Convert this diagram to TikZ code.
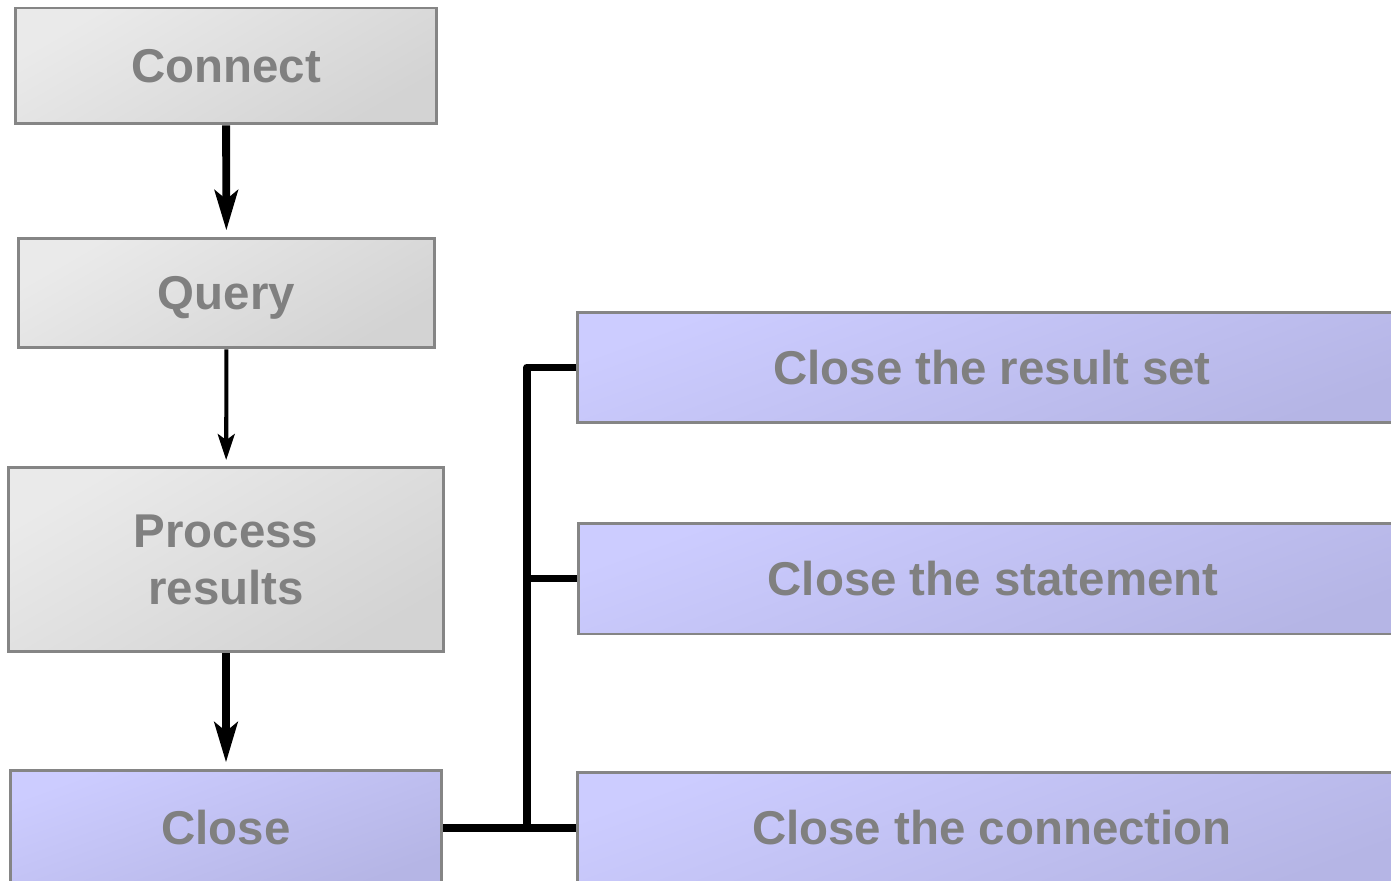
\documentclass[tikz,border=0pt]{standalone}
\usepackage{fontspec}
\setmainfont{Liberation Sans}
\usetikzlibrary{arrows.meta,positioning}

\definecolor{boxline}{HTML}{858585}
\definecolor{boxtext}{HTML}{808080}
\definecolor{greylight}{HTML}{EAEAEA}
\definecolor{greydark}{HTML}{D3D3D3}
\definecolor{bluelight}{HTML}{CCCCFF}
\definecolor{bluedark}{HTML}{B5B5E5}

\tikzset{
  stage/.style={draw=boxline,line width=1.7pt,align=center,inner sep=0pt,
    text=boxtext,font=\fontsize{27}{32.4}\selectfont\bfseries},
  oneline/.style={text height=19.3pt,text depth=0pt},
  greybox/.style={stage,shade,left color=greylight,right color=greydark,
    shading angle=30},
  bluebox/.style={stage,shade,left color=bluelight,right color=bluedark,
    shading angle=20},
  flow/.style={line width=4.5pt,
    -{Stealth[length=0.8cm,width=0.46cm,inset=0.18cm]},shorten >=0.12cm},
  thinflow/.style={line width=2.3pt,
    -{Stealth[length=0.52cm,width=0.34cm,inset=0.12cm]},shorten >=0.11cm},
  bar/.style={line width=4.5pt,line join=round}
}

\begin{document}
\begin{tikzpicture}[x=0.02cm,y=-0.02cm]
\useasboundingbox (0,0) rectangle (1391,881);
\clip (0,0) rectangle (1391,881);

% left column: the main steps
\node[greybox,oneline,minimum width=8.44cm,minimum height=2.32cm] (connect) at (226,66) {Connect};
\node[greybox,oneline,minimum width=8.34cm,minimum height=2.2cm] (query) at (226.5,293) {Query};
\node[greybox,minimum width=8.72cm,minimum height=3.7cm] (process) at (226,559.5) {Process\\results};
\node[bluebox,oneline,minimum width=8.64cm,minimum height=2.32cm] (close) at (226,828) {Close};

% right column: what gets closed
\node[bluebox,oneline,minimum width=16.6cm,minimum height=2.22cm] (closers) at (992,367.5) {Close the result set};
\node[bluebox,oneline,minimum width=16.6cm,minimum height=2.22cm] (closest) at (993,578.5) {Close the statement};
\node[bluebox,oneline,minimum width=16.6cm,minimum height=2.24cm] (closecon) at (992,828) {Close the connection};

\draw[flow] (connect) -- (query);
\draw[thinflow] (query) -- (process);
\draw[flow] (process) -- (close);

% fan out from Close
\coordinate (junction) at (527,828);
\draw[bar] (closers.west) -| (junction);
\draw[bar] (closest.west) -- (closest.west -| junction);
\draw[bar] (close.east) -- (closecon.west);
\end{tikzpicture}
\end{document}
